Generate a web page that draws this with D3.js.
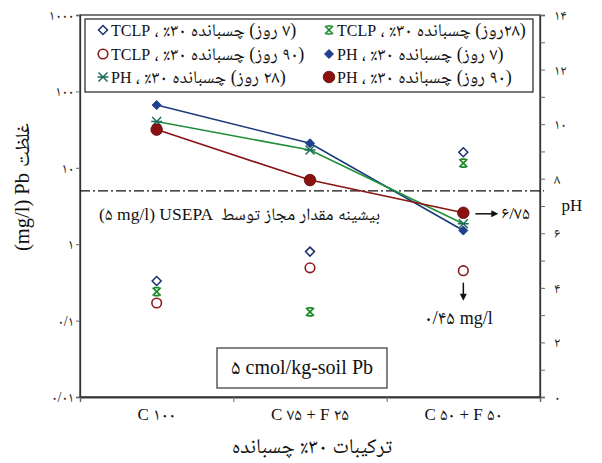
<!DOCTYPE html>
<html>
<head>
<meta charset="utf-8">
<script src="https://cdn.jsdelivr.net/npm/d3@7/dist/d3.min.js"></script>
<style>
  body { margin: 0; background: #fff; }
  svg { display: block; }
</style>
</head>
<body>
<svg id="chart" width="602" height="463"></svg>
<script>
// Binder mixes on the x axis
const categories = ["C ۱۰۰", "C ۷۵ + F ۲۵", "C ۵۰ + F ۵۰"];

// Leached Pb (TCLP, mg/l) – left log axis
const tclp7 = [0.33, 0.8, 16];
const tclp28 = [0.24, 0.13, 11.5];
const tclp90 = [0.17, 0.49, 0.45];

// pH – right axis
const ph7 = [10.7, 9.3, 6.1];
const ph28 = [10.1, 9.05, 6.35];
const ph90 = [9.8, 7.95, 6.75];

// Axis ticks
const leftTicks = [0.01, 0.1, 1, 10, 100, 1000];
const leftTickLabels = ["۰/۰۱", "۰/۱", "۱", "۱۰", "۱۰۰", "۱۰۰۰"];
const rightTicks = [0, 1, 2, 3, 4, 5, 6, 7, 8, 9, 10, 11, 12, 13, 14];
const rightTickLabels = ["۰", "", "۲", "", "۴", "", "۶", "", "۸", "", "۱۰", "", "۱۲", "", "۱۴"];

// Regulatory limit (mg/l)
const usepaLimit = 5;

const serif = "'Liberation Serif', 'Noto Naskh Arabic', 'Noto Sans Arabic', 'DejaVu Sans', serif";
const svg = d3.select("#chart");
const L = 80, R = 540, T = 15, B = 397;

const x = d3.scaleBand().domain(categories).range([L, R]);
const y = d3.scaleLog().domain([0.01, 1000]).range([B, T]);
const yR = d3.scaleLinear().domain([0, 14]).range([B, T]);

// Plot frame
svg.append("rect")
  .attr("x", L).attr("y", T).attr("width", R - L).attr("height", B - T)
  .attr("fill", "none").attr("stroke", "#333").attr("stroke-width", 1.3);

// Left axis
const gL = svg.append("g").attr("transform", `translate(${L},0)`)
  .call(d3.axisLeft(y).tickValues(leftTicks).tickFormat((d, i) => leftTickLabels[i]).tickSize(4).tickPadding(2));
// Right axis
const gR = svg.append("g").attr("transform", `translate(${R},0)`)
  .call(d3.axisRight(yR).tickValues(rightTicks).tickFormat((d, i) => rightTickLabels[i]).tickSize(5).tickPadding(9));
// Bottom axis labels
const gB = svg.append("g").attr("transform", `translate(0,${B})`)
  .call(d3.axisBottom(x).tickSize(0).tickPadding(11));
// Bottom axis separators between categories
const bounds = d3.range(categories.length + 1).map(i => L + i * x.step());
const gS = svg.append("g").attr("transform", `translate(0,${B})`)
  .call(d3.axisBottom(d3.scaleLinear().domain([L, R]).range([L, R])).tickValues(bounds).tickFormat("").tickSize(5));

[gL, gR, gB, gS].forEach(g => {
  g.select(".domain").attr("stroke", "#333").attr("stroke-width", 1.3);
  g.selectAll(".tick line").attr("stroke", "#666");
  g.selectAll("text").attr("font-family", serif).attr("font-size", 14).attr("fill", "#222");
});
gB.selectAll("text").attr("font-size", 17).attr("fill", "#111");

// USEPA limit line
svg.append("line")
  .attr("x1", L).attr("x2", R + 4).attr("y1", y(usepaLimit)).attr("y2", y(usepaLimit))
  .attr("stroke", "#111").attr("stroke-width", 1.3).attr("stroke-dasharray", "10,3,2,3");

// pH lines
const cx = c => x(c) + x.bandwidth() / 2;
const lineGen = d3.line().x((d, i) => cx(categories[i])).y(d => yR(d));
const phSeries = [
  { data: ph7, color: "#1b3a7c" },
  { data: ph28, color: "#1f8f3a" },
  { data: ph90, color: "#8a1414" }
];
phSeries.forEach(s => {
  svg.append("path").attr("d", lineGen(s.data))
    .attr("fill", "none").attr("stroke", s.color).attr("stroke-width", 1.6);
});

// Marker shapes
function marker(g, type, px, py, color) {
  const s = 4.5;
  if (type === "diamondOpen") {
    g.append("path").attr("d", `M${px},${py - s}L${px + s},${py}L${px},${py + s}L${px - s},${py}Z`)
      .attr("fill", "#fff").attr("stroke", color).attr("stroke-width", 1.5);
  } else if (type === "diamond") {
    g.append("path").attr("d", `M${px},${py - s}L${px + s},${py}L${px},${py + s}L${px - s},${py}Z`)
      .attr("fill", color).attr("stroke", color).attr("stroke-width", 1);
  } else if (type === "circleOpen") {
    g.append("circle").attr("cx", px).attr("cy", py).attr("r", 4.8)
      .attr("fill", "#fff").attr("stroke", color).attr("stroke-width", 1.6);
  } else if (type === "circle") {
    g.append("circle").attr("cx", px).attr("cy", py).attr("r", 5.8)
      .attr("fill", color).attr("stroke", "#5a0a0a").attr("stroke-width", 0.8);
  } else if (type === "hourglass") {
    const k = 4, c = 2.6;
    g.append("path").attr("d",
      `M${px - k},${py - k}L${px + k},${py + k}M${px - k},${py + k}L${px + k},${py - k}` +
      `M${px - c},${py - k}L${px + c},${py - k}M${px - c},${py + k}L${px + c},${py + k}`)
      .attr("fill", "none").attr("stroke", color).attr("stroke-width", 1.7);
  } else if (type === "asterisk") {
    const k = 4.5;
    g.append("path").attr("d",
      `M${px - k},${py - k}L${px + k},${py + k}M${px - k},${py + k}L${px + k},${py - k}` +
      `M${px - k - 1},${py}L${px + k + 1},${py}`)
      .attr("fill", "none").attr("stroke", color).attr("stroke-width", 1.5);
  }
}

const series = [
  { label: "(۷ روز) چسبانده ۳۰٪ ، TCLP", data: tclp7, type: "diamondOpen", color: "#1f3070", axis: y },
  { label: "(۲۸روز) چسبانده ۳۰٪ ، TCLP", data: tclp28, type: "hourglass", color: "#1d8a2a", axis: y },
  { label: "(۹۰ روز) چسبانده ۳۰٪ ، TCLP", data: tclp90, type: "circleOpen", color: "#8a1a1a", axis: y },
  { label: "(۷ روز) چسبانده ۳۰٪ ، PH", data: ph7, type: "diamond", color: "#1f3f8f", axis: yR },
  { label: "(۲۸ روز) چسبانده ۳۰٪ ، PH", data: ph28, type: "asterisk", color: "#1f6e5c", axis: yR },
  { label: "(۹۰ روز) چسبانده ۳۰٪ ، PH", data: ph90, type: "circle", color: "#8b1010", axis: yR }
];

const gM = svg.append("g");
series.forEach(s => {
  s.data.forEach((v, i) => marker(gM, s.type, cx(categories[i]), s.axis(v), s.color));
});

// Mixed-script text: Latin words at `latinSize`, the rest at `size`
function mixedText(g, str, size, latinSize, dir) {
  const t = g.append("text").attr("direction", dir || "ltr").attr("text-anchor", "middle")
    .attr("font-family", serif).attr("fill", "#111").attr("font-size", size);
  if (latinSize === size) { t.text(str); return t; }
  str.split(/([A-Za-z][A-Za-z\/\-]*)/).filter(p => p.length).forEach(p => {
    const sp = t.append("tspan").text(p);
    if (/^[A-Za-z]/.test(p)) sp.attr("font-size", latinSize);
  });
  return t;
}
// Position a text so that its drawn box has the given left / right / centre x
function placeBox(t, xTarget, base, mode) {
  t.attr("x", 0).attr("y", base);
  const b = t.node().getBBox();
  const ref = mode === "left" ? b.x : mode === "right" ? b.x + b.width : b.x + b.width / 2;
  t.attr("x", xTarget - ref);
  return t;
}
const textLeft = (g, s, left, base, size, ls, dir) => placeBox(mixedText(g, s, size, ls, dir), left, base, "left");
const textRight = (g, s, right, base, size, ls, dir) => placeBox(mixedText(g, s, size, ls, dir), right, base, "right");
const textMid = (g, s, mid, base, size, ls, dir) => placeBox(mixedText(g, s, size, ls, dir), mid, base, "mid");

// Legend
const gLeg = svg.append("g");
gLeg.append("clipPath").attr("id", "legclip").append("rect")
  .attr("x", 85).attr("y", 19).attr("width", 448).attr("height", 73);
gLeg.append("rect").attr("x", 85).attr("y", 19).attr("width", 448).attr("height", 73)
  .attr("fill", "#fff").attr("stroke", "#222").attr("stroke-width", 1.2);
const rowsY = [30, 54, 77];
const colsX = [103, 329];
const gLegItems = gLeg.append("g").attr("clip-path", "url(#legclip)");
series.forEach((s, k) => {
  const row = Math.floor(k / 2), col = k % 2;
  marker(gLegItems, s.type, colsX[col], rowsY[row], s.color);
  textLeft(gLegItems, s.label, colsX[col] + 8, rowsY[row] + 5.5, 18, 16, "rtl");
});

// Annotations: limit caption (Latin part on the left, Persian part on the right)
const gA = svg.append("g");
textLeft(gA, "(۵ mg/l) USEPA", 99, 220, 17.5, 17.5, "ltr");
textRight(gA, "بیشینه مقدار مجاز توسط", 380, 220, 17.5, 17.5, "rtl");

// pH value at the last 90-day point
const p90x = cx(categories[2]), p90y = yR(ph90[2]);
gA.append("line").attr("x1", p90x + 12).attr("x2", p90x + 32).attr("y1", p90y + 1).attr("y2", p90y + 1)
  .attr("stroke", "#111").attr("stroke-width", 1.5);
gA.append("path").attr("d", `M${p90x + 35},${p90y + 1}l-7,-3.5v7z`).attr("fill", "#111");
textLeft(gA, "۶/۷۵", p90x + 38, p90y + 6, 17.5, 17.5, "ltr");

// TCLP value at the last 90-day point
const t90y = y(tclp90[2]);
gA.append("line").attr("x1", p90x).attr("x2", p90x).attr("y1", t90y + 12).attr("y2", t90y + 27)
  .attr("stroke", "#111").attr("stroke-width", 1.5);
gA.append("path").attr("d", `M${p90x},${t90y + 30}l-3.5,-7h7z`).attr("fill", "#111");
textMid(gA, "۰/۴۵ mg/l", p90x - 5, t90y + 53, 19, 18, "ltr");

// Soil Pb content box
gA.append("rect").attr("x", 217).attr("y", 348).attr("width", 170).attr("height", 40)
  .attr("fill", "#fff").attr("stroke", "#333").attr("stroke-width", 1.2);
textMid(gA, "۵ cmol/kg-soil Pb", 302, 374, 21, 20, "ltr");

// Axis titles
textMid(svg, "ترکیبات ۳۰٪ چسبانده", 312, 453, 21, 21, "rtl");
// Left title, rotated: unit part below, Persian word above
const gYT = svg.append("g").attr("transform", "translate(29,200) rotate(-90)");
textRight(gYT, "(mg/l) Pb", 27, 0, 20.5, 20.5, "ltr");
textLeft(gYT, "غلظت", 33, 0, 20, 20, "rtl");
textMid(svg, "pH", 572, 211, 17, 17, "ltr");
</script>
</body>
</html>
